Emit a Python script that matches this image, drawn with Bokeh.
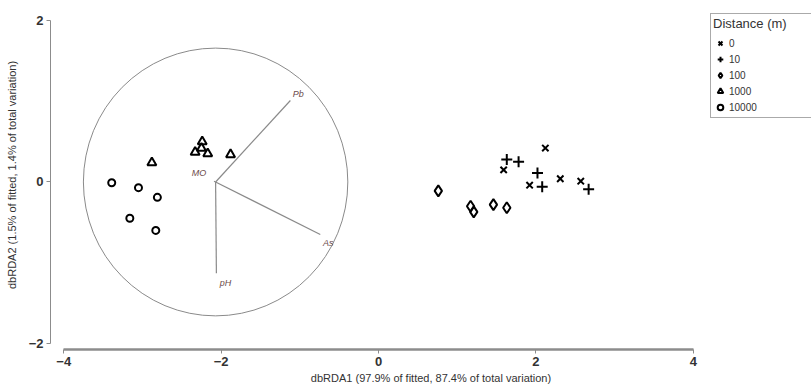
from bokeh.plotting import figure
from bokeh.models import Range1d, FixedTicker, Legend, LegendItem, ColumnDataSource
from bokeh.embed import file_html
from bokeh.resources import INLINE
from bokeh.core.properties import value

FONT = "Liberation Sans"

# Site scores on the two constrained axes, grouped by distance from source (m)
group_labels = ["0", "10", "100", "1000", "10000"]
x_d0 = [2.12, 1.59, 1.92, 2.31, 2.57]
y_d0 = [0.42, 0.15, -0.04, 0.04, 0.01]
x_d10 = [1.63, 1.78, 2.02, 2.08, 2.67]
y_d10 = [0.28, 0.25, 0.11, -0.06, -0.09]
x_d100 = [0.76, 1.17, 1.21, 1.46, 1.63]
y_d100 = [-0.11, -0.30, -0.37, -0.28, -0.32]
x_d1000 = [-2.88, -2.33, -2.24, -2.25, -2.17, -1.88]
y_d1000 = [0.24, 0.37, 0.50, 0.42, 0.35, 0.34]
x_d10000 = [-3.39, -3.05, -2.81, -3.16, -2.83]
y_d10000 = [-0.01, -0.07, -0.19, -0.45, -0.60]

# Predictor vectors (drawn from a common origin) and the correlation circle
vec_names = ["Pb", "As", "pH", "MO"]
vec_origin = (-2.07, 0.0)
vec_end_x = [-1.12, -0.74, -2.06, -2.09]
vec_end_y = [1.01, -0.65, -1.13, 0.01]
circle_radius_x = 1.68
circle_radius_y = 1.66

x_ticks = [-4, -2, 0, 2, 4]
y_ticks = [-2, 0, 2]
x_title = "dbRDA1 (97.9% of fitted, 87.4% of total variation)"
y_title = "dbRDA2 (1.5% of fitted, 1.4% of total variation)"
legend_title = "Distance (m)"

p = figure(
    width=811, height=386,
    x_range=Range1d(-4.168, 5.502), y_range=Range1d(-2.076, 2.249),
    output_backend="svg", toolbar_location=None,
    min_border_left=50, min_border_bottom=37, min_border_top=0, min_border_right=0,
)
p.xgrid.visible = False
p.ygrid.visible = False
p.outline_line_color = None
p.background_fill_color = "white"
p.border_fill_color = "white"

axis_grey = "#8c8c8c"
for ax, ticks, bounds in ((p.xaxis[0], x_ticks, (-4, 4)), (p.yaxis[0], y_ticks, (-2, 2))):
    ax.ticker = FixedTicker(ticks=ticks)
    ax.bounds = bounds
    ax.axis_line_color = axis_grey
    ax.major_tick_line_color = axis_grey
    ax.minor_tick_line_color = None
    ax.major_tick_in = 0
    ax.major_tick_out = 4
    ax.major_label_text_font = FONT
    ax.major_label_text_font_size = "13px"
    ax.major_label_text_font_style = "bold"
    ax.major_label_text_color = "#333333"
    ax.major_label_standoff = 3
    ax.axis_label_text_font = FONT
    ax.axis_label_text_font_size = "11px"
    ax.axis_label_text_font_style = "normal"
    ax.axis_label_text_color = "#333333"

p.xaxis.axis_line_width = 2.5
p.xaxis.axis_label = x_title
p.xaxis.axis_label_standoff = 3
p.yaxis.axis_line_width = 1
p.yaxis.axis_label = y_title
p.yaxis.axis_label_standoff = 8

# Correlation circle
p.ellipse(x=[vec_origin[0]], y=[vec_origin[1]], width=[2 * circle_radius_x],
          height=[2 * circle_radius_y], fill_color=None, line_color="#8a8a8a", line_width=1)

# Predictor vectors and their labels
vsrc = ColumnDataSource(dict(
    x0=[vec_origin[0]] * len(vec_names), y0=[vec_origin[1]] * len(vec_names),
    x1=vec_end_x, y1=vec_end_y, name=vec_names,
    dx=[8, 8, 9, -15], dy=[-6, 9, 10, -8],
))
p.segment(x0="x0", y0="y0", x1="x1", y1="y1", source=vsrc, line_color="#8a8a8a", line_width=1.2)
p.text(x="x1", y="y1", text="name", source=vsrc, x_offset="dx", y_offset="dy",
       text_font=value(FONT), text_font_style="italic", text_font_size="9px",
       text_color="#6b4a4a", text_align="center", text_baseline="middle")

# Site scores
marker_style = dict(fill_color=None, line_color="black", line_width=2)
r0 = p.scatter(x_d0, y_d0, marker="x", size=9, **marker_style)
r10 = p.scatter(x_d10, y_d10, marker="cross", size=11, **marker_style)
r100 = p.scatter(x_d100, y_d100, marker="diamond", size=11, **marker_style)
r1000 = p.scatter(x_d1000, y_d1000, marker="triangle", size=9, **marker_style)
r10000 = p.scatter(x_d10000, y_d10000, marker="circle", size=7, **marker_style)

legend = Legend(
    items=[LegendItem(label=lab, renderers=[r])
           for lab, r in zip(group_labels, [r0, r10, r100, r1000, r10000])],
    title=legend_title, location=(660, 231),
    title_text_font=FONT, title_text_font_size="13px", title_text_font_style="normal",
    title_text_color="#333333", title_standoff=4,
    label_text_font=FONT, label_text_font_size="10px", label_text_color="#333333",
    glyph_width=14, glyph_height=16, label_height=16, label_width=80,
    spacing=0, padding=2, margin=0, label_standoff=2,
    border_line_color="#555555", border_line_width=1,
    background_fill_color="white", background_fill_alpha=1,
)
p.add_layout(legend)

open("out.html", "w").write(file_html(p, INLINE))
